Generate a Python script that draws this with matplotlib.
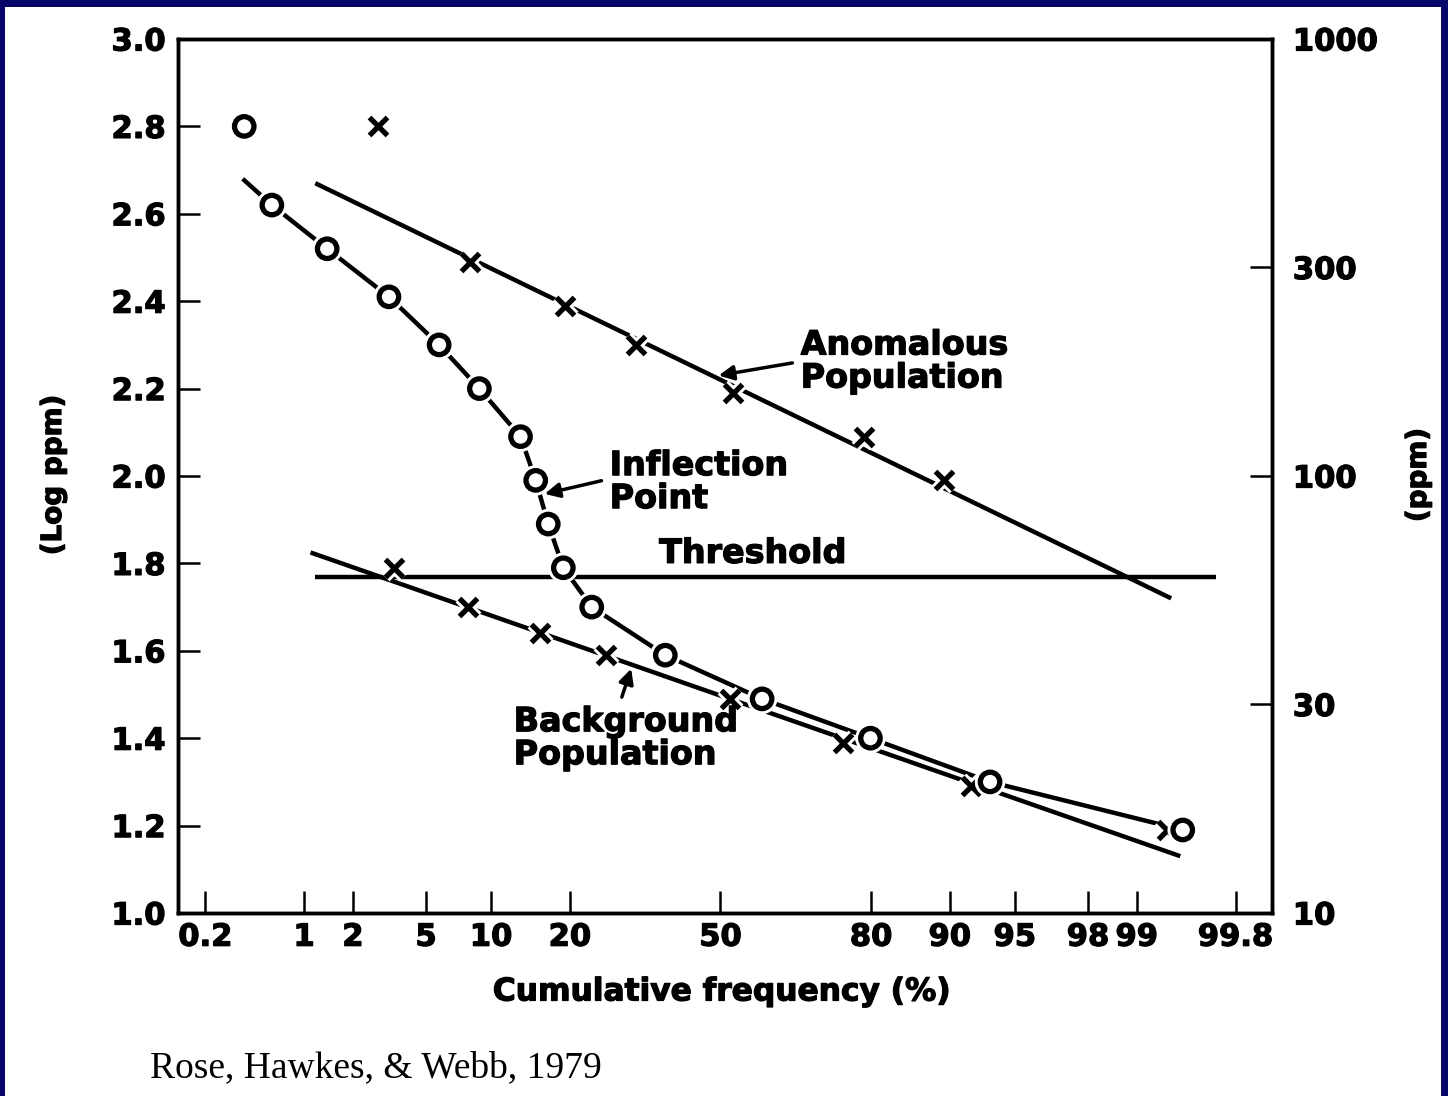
import math
import numpy as np
import matplotlib
matplotlib.use("Agg")
import matplotlib.pyplot as plt
import matplotlib.patheffects as pe
from matplotlib.patches import Rectangle

# all samples (circles): cumulative frequency (%) and log ppm
circ_pct = [0.39, 0.61, 1.40, 3.2, 5.8, 8.9, 13.2, 15.1, 16.8, 19.0, 23.6, 37.9, 59.2, 79.9, 93.4, 99.51]
circ_y = [2.80, 2.62, 2.52, 2.41, 2.30, 2.20, 2.09, 1.99, 1.89, 1.79, 1.70, 1.59, 1.49, 1.40, 1.30, 1.19]

# curve drawn through the circles (starts a little before the second circle)
curve_pct = [0.38] + circ_pct[1:]
curve_y = [2.68] + circ_y[1:]

# anomalous population (crosses)
anom_pct = [2.8, 8.05, 19.3, 31.9, 52.7, 78.8, 89.4]
anom_y = [2.80, 2.49, 2.39, 2.30, 2.19, 2.09, 1.99]

# background population (crosses)
bg_pct = [3.4, 7.9, 15.7, 26.2, 52.2, 75.4, 91.9, 99.37]
bg_y = [1.79, 1.70, 1.64, 1.59, 1.49, 1.39, 1.29, 1.19]

# fitted straight lines and threshold
anom_fit_pct = [1.18, 99.41]
anom_fit_y = [2.67, 1.72]
bg_fit_pct = [1.10, 99.49]
bg_fit_y = [1.825, 1.13]
thr_pct = [1.18, 99.72]
thr_y = [1.77, 1.77]

# axis ticks
x_ticks = [0.2, 1, 2, 5, 10, 20, 50, 80, 90, 95, 98, 99, 99.8]
x_labels = ["0.2", "1", "2", "5", "10", "20", "50", "80", "90", "95", "98", "99", "99.8"]
y_ticks = [1.0, 1.2, 1.4, 1.6, 1.8, 2.0, 2.2, 2.4, 2.6, 2.8, 3.0]
ppm_ticks = [10, 30, 100, 300, 1000]

plt.rcParams["font.family"] = ["DejaVu Sans"]
plt.rcParams["font.weight"] = "bold"

# normal probability scale (percent <-> z)
_erf = np.vectorize(math.erf, otypes=[float])


def cdf(z):
    return 50.0 * (1.0 + _erf(np.asarray(z, dtype=float) / math.sqrt(2.0)))


def ppf(p):
    p = np.clip(np.asarray(p, dtype=float), 1e-7, 100 - 1e-7)
    lo = np.full(p.shape, -8.0)
    hi = np.full(p.shape, 8.0)
    for _ in range(55):
        mid = (lo + hi) / 2
        below = cdf(mid) < p
        lo = np.where(below, mid, lo)
        hi = np.where(below, hi, mid)
    return (lo + hi) / 2


W, H = 1448, 1096
fig = plt.figure(figsize=(W / 100, H / 100), dpi=100)
fig.patch.set_facecolor("#06066a")
fig.add_artist(Rectangle((5 / W, 0), (W - 12) / W, (H - 7) / H, transform=fig.transFigure,
                         facecolor="white", edgecolor="none", zorder=-5))

left, right, top, bottom = 178, 1272, 39, 913
ax = fig.add_axes([left / W, (H - bottom) / H, (right - left) / W, (bottom - top) / H])
ax.set_xscale("function", functions=(ppf, cdf))
ax.set_xlim(0.122, 99.897)
ax.set_ylim(1.0, 3.0)

lw = 3.2
halo = [pe.Stroke(linewidth=8, foreground="white"), pe.Normal()]
heavy = [pe.withStroke(linewidth=0.9, foreground="black")]

# lines
ax.plot(anom_fit_pct, anom_fit_y, color="black", lw=lw, solid_capstyle="butt", zorder=2)
ax.plot(bg_fit_pct, bg_fit_y, color="black", lw=lw, solid_capstyle="butt", zorder=2)
ax.plot(thr_pct, thr_y, color="black", lw=lw, solid_capstyle="butt", zorder=2)
ax.plot(curve_pct, curve_y, color="black", lw=lw, solid_capstyle="butt", zorder=2)

# markers
ax.plot(circ_pct, circ_y, linestyle="none", marker="o", ms=14, mew=3.8,
        mfc="white", mec="black", path_effects=halo, zorder=4)
ax.plot(anom_pct, anom_y, linestyle="none", marker="x", ms=13, mew=3.8,
        color="black", path_effects=halo, zorder=3)
ax.plot(bg_pct, bg_y, linestyle="none", marker="x", ms=13, mew=3.8,
        color="black", path_effects=halo, zorder=3)

# annotations
afs = 24
arrow = dict(arrowstyle="-|>", color="black", lw=2.5, mutation_scale=22, shrinkA=4, shrinkB=0)
ax.annotate("Anomalous\nPopulation", xy=(49.6, 2.23), xytext=(67.3, 2.262),
            ha="left", va="center", fontsize=afs, fontweight="bold", linespacing=1.0,
            arrowprops=dict(arrow, relpos=(0, 0.5)), zorder=5, path_effects=heavy)
ax.annotate("Inflection\nPoint", xy=(16.3, 1.959), xytext=(26.8, 1.986),
            ha="left", va="center", fontsize=afs, fontweight="bold", linespacing=1.0,
            arrowprops=dict(arrow, relpos=(0, 0.55)), zorder=5, path_effects=heavy)
ax.annotate("Background\nPopulation", xy=(30.9, 1.559), xytext=(12.4, 1.40),
            ha="left", va="center", fontsize=afs, fontweight="bold", linespacing=1.0,
            arrowprops=dict(arrow, relpos=(0.47, 1.0)), zorder=5, path_effects=heavy)
ax.text(36.6, 1.823, "Threshold", ha="left", va="center", fontsize=afs, fontweight="bold",
        zorder=5, path_effects=heavy)

# axes styling
for s in ax.spines.values():
    s.set_linewidth(2.5)
ax.set_xticks(x_ticks)
ax.set_xticklabels(x_labels)
ax.xaxis.set_minor_locator(matplotlib.ticker.NullLocator())
ax.set_yticks(y_ticks)
ax.set_yticklabels([f"{v:.1f}" for v in y_ticks])
ax.tick_params(axis="x", direction="in", length=16, width=1.8, pad=7, labelsize=22)
ax.tick_params(axis="y", direction="in", length=16, width=1.8, pad=9, labelsize=22)
for t in ax.get_xticklabels() + ax.get_yticklabels():
    t.set_fontweight("bold")
    t.set_path_effects(heavy)

ax2 = ax.twinx()
ax2.set_yscale("log")
ax2.set_ylim(10, 1000)
ax2.set_yticks(ppm_ticks)
ax2.set_yticklabels([str(v) for v in ppm_ticks])
ax2.yaxis.set_minor_locator(matplotlib.ticker.NullLocator())
ax2.tick_params(axis="y", direction="in", length=16, width=1.8, pad=15, labelsize=22)
for t in ax2.get_yticklabels():
    t.set_fontweight("bold")
    t.set_path_effects(heavy)
for s in ax2.spines.values():
    s.set_linewidth(2.5)

# axis titles and source
fig.text(722 / W, 1 - 992 / H, "Cumulative frequency (%)", ha="center", va="center",
         fontsize=22.5, fontweight="bold", path_effects=heavy)
fig.text(53 / W, 1 - 475 / H, "(Log ppm)", ha="center", va="center", rotation=90,
         fontsize=20, fontweight="bold", path_effects=heavy)
fig.text(1418 / W, 1 - 475 / H, "(ppm)", ha="center", va="center", rotation=90,
         fontsize=20, fontweight="bold", path_effects=heavy)
fig.text(150 / W, 1 - 1068 / H, "Rose, Hawkes, & Webb, 1979", ha="left", va="center",
         fontsize=27, fontweight="normal", family="Liberation Serif")

fig.savefig("out.png", dpi=100, facecolor=fig.get_facecolor())
